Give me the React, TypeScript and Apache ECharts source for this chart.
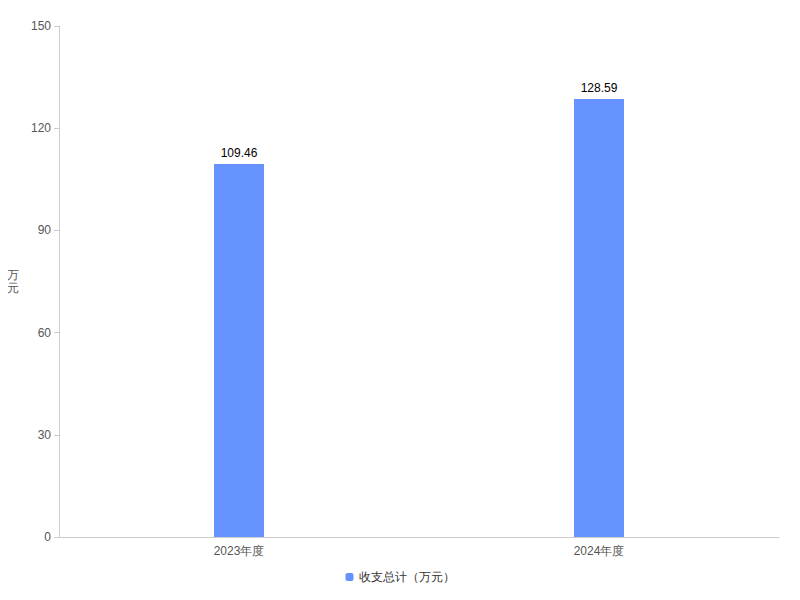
import React, { useEffect, useRef } from "react";
import * as echarts from "echarts";

const categories = ["2023年度", "2024年度"];
const totals = [109.46, 128.59];
const seriesName = "收支总计（万元）";

export default function App() {
  const ref = useRef<HTMLDivElement>(null);
  useEffect(() => {
    if (!ref.current) return;
    const chart = echarts.init(ref.current, null, { renderer: "svg" });
    chart.setOption({
      animation: false,
      grid: { left: 59, right: 21, top: 26, bottom: 63 },
      legend: {
        bottom: 12,
        left: "center",
        icon: "roundRect",
        itemWidth: 8,
        itemHeight: 8,
        textStyle: { color: "#333", fontSize: 12 },
        data: [seriesName],
      },
      xAxis: {
        type: "category",
        data: categories,
        axisTick: { alignWithLabel: true, lineStyle: { color: "#ccc" } },
        axisLine: { lineStyle: { color: "#ccc" } },
        axisLabel: { color: "#555", fontSize: 12, margin: 8 },
      },
      yAxis: {
        type: "value",
        min: 0,
        max: 150,
        interval: 30,
        name: "万\n元",
        nameLocation: "middle",
        nameGap: 40,
        nameRotate: 0,
        nameTextStyle: { color: "#555", fontSize: 12, lineHeight: 13, padding: [0, 0, 22, 0] },
        axisLine: { show: true, lineStyle: { color: "#ccc" } },
        axisTick: { show: true, lineStyle: { color: "#ccc" } },
        splitLine: { show: false },
        axisLabel: { color: "#555", fontSize: 12 },
      },
      series: [
        {
          name: seriesName,
          type: "bar",
          data: totals,
          barWidth: 50,
          itemStyle: { color: "#6592fc" },
          label: { show: true, position: "top", color: "#000", fontSize: 12 },
        },
      ],
    });
    return () => chart.dispose();
  }, []);
  return <div ref={ref} style={{ width: 800, height: 600, margin: -8 }} />;
}
